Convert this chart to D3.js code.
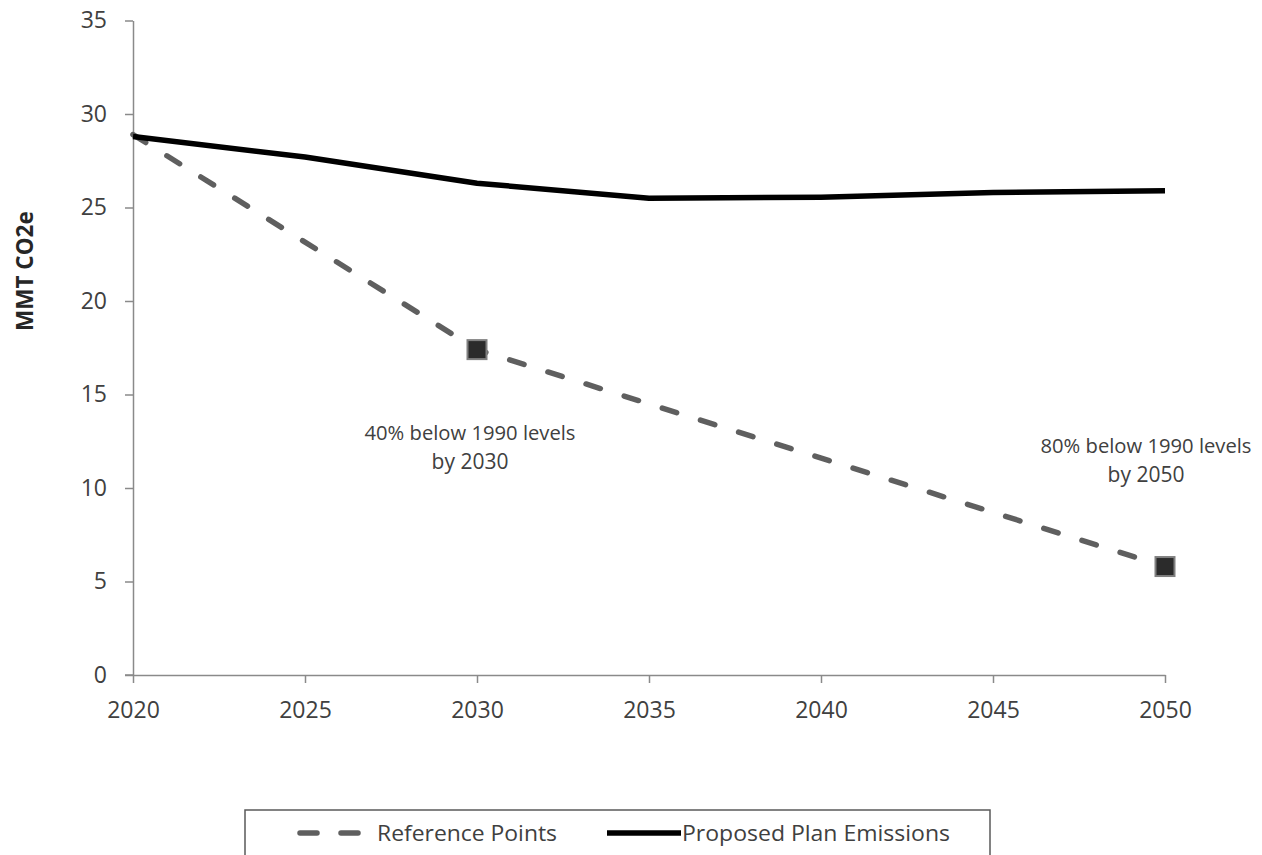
<!DOCTYPE html>
<html><head><meta charset="utf-8">
<script src="https://cdn.jsdelivr.net/npm/d3@7"></script>
<style>body{margin:0;background:#fff}svg{display:block}text{font-family:"Open Sans",sans-serif}</style>
</head><body>
<svg id="c" width="1262" height="855"></svg>
<script>
const years = [2020, 2025, 2030, 2035, 2040, 2045, 2050];
const planEmissions = [28.8, 27.7, 26.3, 25.5, 25.55, 25.8, 25.9];
const refYears = [2020, 2030, 2050];
const refValues = [28.9, 17.4, 5.8];
const markerYears = [2030, 2050];
const markerValues = [17.4, 5.8];
const yTicks = [0, 5, 10, 15, 20, 25, 30, 35];
const xTicks = [2020, 2025, 2030, 2035, 2040, 2045, 2050];
const annotations = [
  {year: 2030, lines: ["40% below 1990 levels", "by 2030"]},
  {year: 2050, lines: ["80% below 1990 levels", "by 2050"]}
];
const legendLabels = ["Reference Points", "Proposed Plan Emissions"];

const svg = d3.select("#c");
const x = d3.scaleLinear().domain([2020, 2050]).range([133, 1165]);
const y = d3.scaleLinear().domain([0, 35]).range([675, 20.5]);
const axisColor = "#8a8a8a";

// axes
const yAxis = svg.append("g").attr("transform", "translate(133,0)")
  .call(d3.axisLeft(y).tickValues(yTicks).tickSize(8).tickPadding(18).tickSizeOuter(0));
const xAxis = svg.append("g").attr("transform", "translate(0,675)")
  .call(d3.axisBottom(x).tickValues(xTicks).tickFormat(d3.format("d")).tickSize(8).tickSizeOuter(0));
[yAxis, xAxis].forEach(g => {
  g.select(".domain").attr("stroke", axisColor).attr("stroke-width", 1.5);
  g.selectAll(".tick line").attr("stroke", axisColor).attr("stroke-width", 1.5);
  g.selectAll(".tick text").attr("fill", "#404040").style("font-size", "23px").style("font-family", "'Open Sans',sans-serif");
});
xAxis.selectAll(".tick text").attr("dy", null).attr("y", 43);
svg.append("line").attr("x1", 125).attr("x2", 133).attr("y1", y(0)).attr("y2", y(0))
  .attr("stroke", axisColor).attr("stroke-width", 1.5);

// y label
svg.append("text").attr("transform", `translate(33,${y(21.6)}) rotate(-90)`)
  .attr("text-anchor", "middle").attr("fill", "#262626")
  .style("font-size", "22.5px").style("font-weight", "bold").text("MMT CO2e");

// reference dashed line
const refData = refYears.map((d, i) => [d, refValues[i]]);
svg.append("path").datum(refData)
  .attr("d", d3.line().x(d => x(d[0])).y(d => y(d[1])))
  .attr("fill", "none").attr("stroke", "#5f5f5f").attr("stroke-width", 5.5)
  .attr("stroke-linecap", "round").attr("stroke-dasharray", "15,25");

// plan line
const planData = years.map((d, i) => [d, planEmissions[i]]);
svg.append("path").datum(planData)
  .attr("d", d3.line().x(d => x(d[0])).y(d => y(d[1])))
  .attr("fill", "none").attr("stroke", "#000").attr("stroke-width", 5.5)
  .attr("stroke-linejoin", "round");

// markers
svg.selectAll("rect.m").data(markerYears.map((d, i) => [d, markerValues[i]])).join("rect")
  .attr("x", d => x(d[0]) - 9.5).attr("y", d => y(d[1]) - 9.5)
  .attr("width", 19).attr("height", 19)
  .attr("fill", "#2b2b2b").attr("stroke", "#808080").attr("stroke-width", 2);

// annotations
const annPos = [{dx: -7, y0: 440}, {dx: -19, y0: 453}];
annotations.forEach((a, k) => {
  a.lines.forEach((l, i) => {
    const t = svg.append("text").attr("text-anchor", "middle").attr("fill", "#404040")
      .style("font-size", i === 0 ? "20px" : "21px")
      .attr("x", x(a.year) + annPos[k].dx).attr("y", annPos[k].y0 + i * 28.5).text(l);
    if (i === 0) t.attr("textLength", 211).attr("lengthAdjust", "spacingAndGlyphs");
  });
});

// legend
const lg = svg.append("g");
lg.append("rect").attr("x", 245).attr("y", 810).attr("width", 745).attr("height", 60)
  .attr("fill", "#fff").attr("stroke", "#595959").attr("stroke-width", 1.5);
lg.append("line").attr("x1", 300).attr("x2", 358).attr("y1", 833).attr("y2", 833)
  .attr("stroke", "#5f5f5f").attr("stroke-width", 5.5).attr("stroke-linecap", "round")
  .attr("stroke-dasharray", "17,24");
lg.append("line").attr("x1", 607).attr("x2", 681).attr("y1", 833).attr("y2", 833)
  .attr("stroke", "#000").attr("stroke-width", 5.5);
lg.append("text").attr("x", 377).attr("y", 841).attr("fill", "#404040").style("font-size", "22px")
  .attr("textLength", 180).attr("lengthAdjust", "spacingAndGlyphs").text(legendLabels[0]);
lg.append("text").attr("x", 682).attr("y", 841).attr("fill", "#404040").style("font-size", "22px")
  .attr("textLength", 268).attr("lengthAdjust", "spacingAndGlyphs").text(legendLabels[1]);
</script>
</body></html>
